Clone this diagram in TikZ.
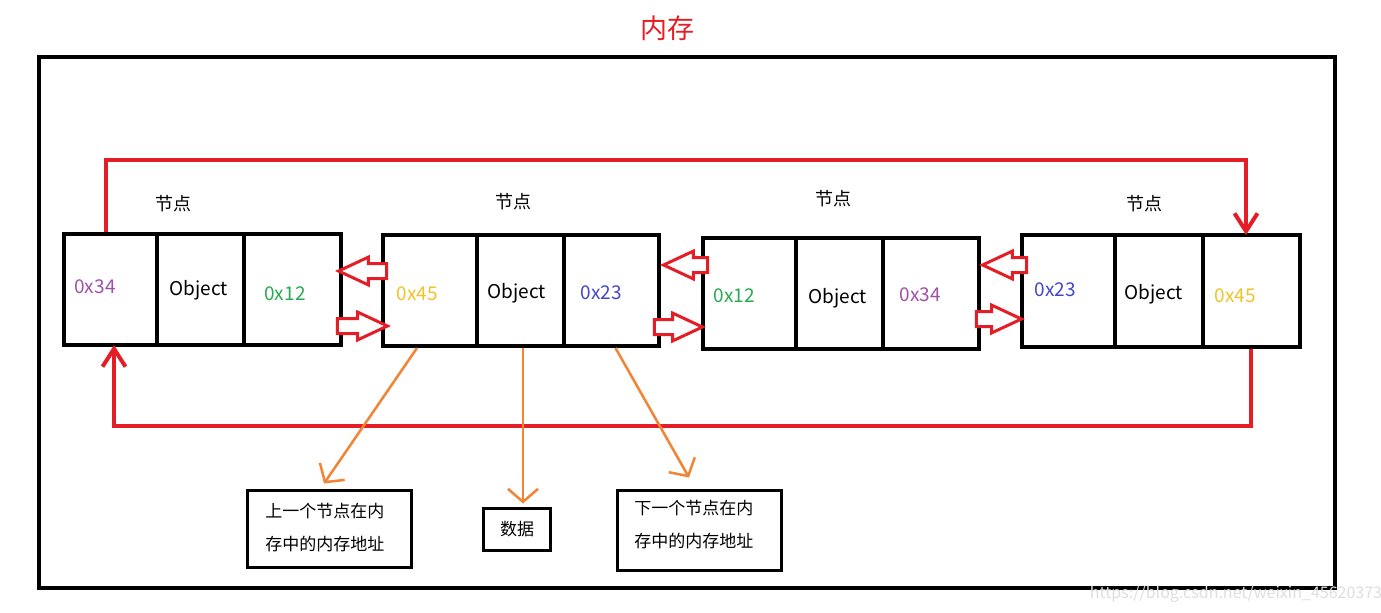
\documentclass[tikz,border=0pt]{standalone}
\usepackage{fontspec}
\setmainfont{Noto Sans CJK SC}
\usetikzlibrary{arrows.meta,shapes.arrows,fit}
\definecolor{myred}{RGB}{228,30,38}
\definecolor{myorange}{RGB}{242,132,52}
\definecolor{cpurple}{RGB}{160,80,170}
\definecolor{cgreen}{RGB}{40,170,80}
\definecolor{cyellow}{RGB}{240,195,40}
\definecolor{cblue}{RGB}{70,70,200}
\begin{document}
\begin{tikzpicture}[x=0.5pt,y=-0.5pt,
  cell/.style={draw=black, line width=2pt, inner sep=0pt},
  txt/.style={font=\fontsize{9.5pt}{11pt}\selectfont, inner sep=0pt},
  lbl/.style={font=\fontsize{9pt}{11pt}\selectfont, inner sep=0pt},
  infobox/.style={draw=black, line width=1.5pt, inner sep=0pt},
  infotxt/.style={font=\fontsize{8.5pt}{16.5pt}\selectfont, align=left, inner sep=0pt},
  harrow/.style={single arrow, draw=myred, line width=1.5pt, fill=white, inner xsep=0pt, inner ysep=3pt, minimum width=0pt, single arrow head extend=3.2pt, single arrow tip angle=50, anchor=tip},
  redline/.style={draw=myred, line width=2pt},
  redtip/.style={-{Straight Barb[length=9pt,width=11.5pt,line width=2pt]}},
  orangeline/.style={draw=myorange, line width=1.25pt, -{Straight Barb[length=6.5pt,width=15pt,line width=1.25pt]}}
]
\useasboundingbox (0,0) rectangle (1381,612);
\fill[white] (0,0) rectangle (1381,612);

% title and frame
\node[text=myred, font=\fontsize{13.5pt}{16pt}\selectfont, inner sep=0pt] (title) at (667,28) {内存};
\node[draw=black, line width=2pt, inner sep=0pt, fit={(39,57) (1335,588)}] (frame) {};

% node 1
\node[cell, fit={(64,234) (157,345)}] (n1a) {};
\node[cell, fit={(157,234) (244,345)}] (n1b) {};
\node[cell, fit={(244,234) (341,345)}] (n1c) {};
% node 2
\node[cell, fit={(383,235) (477,346)}] (n2a) {};
\node[cell, fit={(477,235) (564,346)}] (n2b) {};
\node[cell, fit={(564,235) (659,346)}] (n2c) {};
% node 3
\node[cell, fit={(703,238) (796,349)}] (n3a) {};
\node[cell, fit={(796,238) (883,349)}] (n3b) {};
\node[cell, fit={(883,238) (979,349)}] (n3c) {};
% node 4
\node[cell, fit={(1022,235) (1115,347)}] (n4a) {};
\node[cell, fit={(1115,235) (1203,347)}] (n4b) {};
\node[cell, fit={(1203,235) (1300,347)}] (n4c) {};

% cell texts
\node[txt, text=cpurple] (t1a) at (95,287) {0x34};
\node[txt] (t1b) at (199,290) {Object};
\node[txt, text=cgreen] (t1c) at (285,294) {0x12};
\node[txt, text=cyellow] (t2a) at (417,294) {0x45};
\node[txt] (t2b) at (517,293) {Object};
\node[txt, text=cblue] (t2c) at (601,293) {0x23};
\node[txt, text=cgreen] (t3a) at (734,296) {0x12};
\node[txt] (t3b) at (838,298) {Object};
\node[txt, text=cpurple] (t3c) at (920,295) {0x34};
\node[txt, text=cblue] (t4a) at (1055,290) {0x23};
\node[txt] (t4b) at (1154,294) {Object};
\node[txt, text=cyellow] (t4c) at (1235,296) {0x45};

% node labels
\node[lbl] (l1) at (173,204) {节点};
\node[lbl] (l2) at (513,202) {节点};
\node[lbl] (l3) at (833,199) {节点};
\node[lbl] (l4) at (1144,204) {节点};

% hollow arrows between nodes (placed by their tips)
\node[harrow, shape border rotate=180, minimum height=24pt] (a12l) at (335,271) {};
\node[harrow, minimum height=25pt] (a12r) at (391,326) {};
\node[harrow, shape border rotate=180, minimum height=22pt] (a23l) at (660,265) {};
\node[harrow, minimum height=24pt] (a23r) at (706,327) {};
\node[harrow, shape border rotate=180, minimum height=22pt] (a34l) at (979,265) {};
\node[harrow, minimum height=22.5pt] (a34r) at (1025,319) {};

% red loops
\coordinate (tl) at (106,160);
\coordinate (tr) at (1246,160);
\coordinate (br) at (1251,426);
\coordinate (bl) at (114,426);
\draw[redline, redtip] (n1a.north -| tl) -- (tl) -- (tr) -- ([yshift=-1pt]n4c.north -| tr);
\draw[redline, redtip] (n4c.south -| br) -- (br) -- (bl) -- ([yshift=1pt]n1a.south -| bl);

% info boxes
\node[infobox, fit={(247,490) (411,567)}] (b1) {};
\node[infotxt, anchor=north west] (b1t) at (265,503) {上一个节点在内\\存中的内存地址};
\node[infobox, fit={(483,508) (550,550)}] (b2) {};
\node[infotxt] (b2t) at (517,529) {数据};
\node[infobox, fit={(617,490) (781,570)}] (b3) {};
\node[infotxt, anchor=north west] (b3t) at (634,500) {下一个节点在内\\存中的内存地址};

% orange pointers
\draw[orangeline] ([xshift=-6.5pt]n2a.south) -- ([xshift=-2.5pt,yshift=2.5pt]b1.north);
\draw[orangeline] ([xshift=1.25pt]n2b.south) -- ([xshift=1.25pt,yshift=1.5pt]n2b.south |- b2.north);
\draw[orangeline] ([xshift=2pt]n2c.south) -- ([xshift=-5pt,yshift=5.5pt]b3.north);

% watermark
\node[text=black!13, font=\fontsize{8pt}{9pt}\selectfont, inner sep=0pt] (wm) at (1236,594) {https://blog.csdn.net/weixin\_45620373};
\end{tikzpicture}
\end{document}
